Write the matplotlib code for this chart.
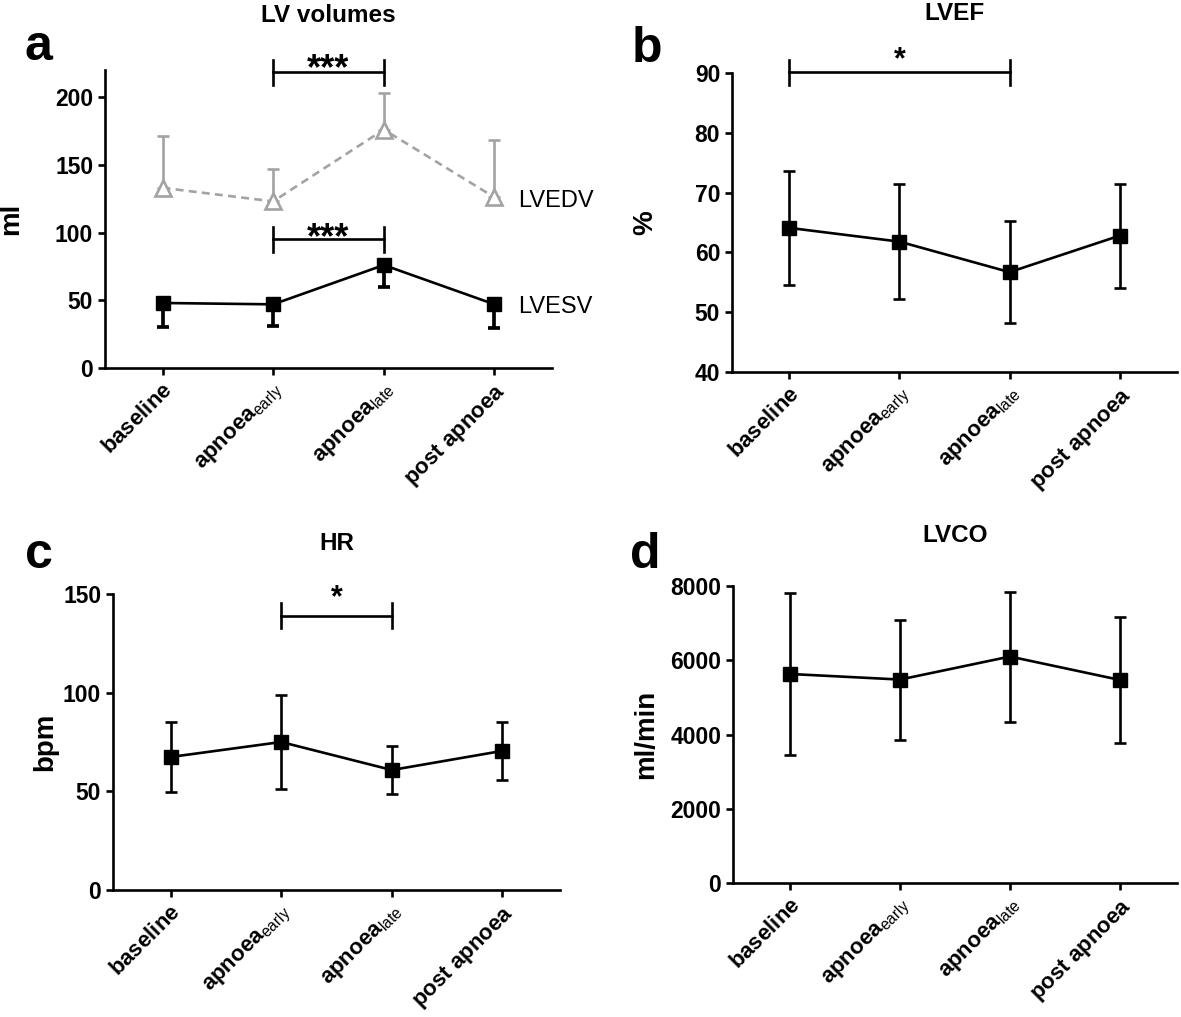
import matplotlib
matplotlib.use("Agg")
import matplotlib.pyplot as plt

plt.rcParams['font.family'] = ['Liberation Sans', 'DejaVu Sans']
plt.rcParams['mathtext.fontset'] = 'custom'
plt.rcParams['mathtext.rm'] = 'Liberation Sans'
plt.rcParams['mathtext.bf'] = 'Liberation Sans:bold'
plt.rcParams['mathtext.it'] = 'Liberation Sans:italic'

# data
phases = [r'$\mathbf{baseline}$', r'$\mathbf{apnoea}_{\mathrm{early}}$',
          r'$\mathbf{apnoea}_{\mathrm{late}}$', r'$\mathbf{post\ apnoea}$']
x = [0, 1, 2, 3]

lvedv = [133, 123, 176, 126]
lvedv_up = [38, 24, 27, 42]
lvesv = [48, 47, 76, 47]
lvesv_down = [18, 16, 16, 17.5]

lvef = [64.1, 61.8, 56.7, 62.8]
lvef_sd = [9.5, 9.6, 8.5, 8.7]

hr = [67.4, 75.0, 60.8, 70.5]
hr_sd = [17.7, 24.0, 12.2, 14.7]

lvco = [5630, 5480, 6100, 5470]
lvco_sd = [2170, 1615, 1750, 1700]

W, H = 1181, 1017
fig = plt.figure(figsize=(W / 100, H / 100), dpi=100)

BLACK = 'black'
GREY = '#a3a3a3'
LW = 1.9


def make_ax(l, r, t, b, ylim, yticks, ylabel, lab_x, title, title_y, letter, letter_xy):
    ax = fig.add_axes([l / W, 1 - b / H, (r - l) / W, (b - t) / H])
    ax.set_xlim(-0.52, 3.52)
    ax.set_ylim(*ylim)
    ax.set_yticks(yticks)
    for s in ['top', 'right']:
        ax.spines[s].set_visible(False)
    for s in ['left', 'bottom']:
        ax.spines[s].set_linewidth(LW)
    ax.tick_params(width=LW, length=5, labelsize=16.5, direction='out')
    for lab in ax.get_yticklabels():
        lab.set_fontweight('bold')
    ax.set_xticks(x)
    ax.set_xticklabels(phases, rotation=45, ha='right', va='top',
                       rotation_mode='anchor', fontsize=16)
    ax.set_ylabel(ylabel, fontsize=20, fontweight='bold')
    ax.yaxis.set_label_coords(lab_x, 0.5)
    fig.text((l + r) / 2 / W, 1 - title_y / H, title, ha='center', va='center',
             fontsize=17.5, fontweight='bold')
    fig.text(letter_xy[0] / W, 1 - letter_xy[1] / H, letter,
             ha='left', va='baseline', fontsize=36, fontweight='bold')
    return ax


def bracket(ax, i, j, level, label, star_off, size):
    y0, y1 = ax.get_ylim()
    h = 0.042 * (y1 - y0)
    ax.plot([i, j], [level, level], color=BLACK, lw=LW, clip_on=False)
    ax.plot([i, i], [level - h, level + h], color=BLACK, lw=LW, clip_on=False)
    ax.plot([j, j], [level - h, level + h], color=BLACK, lw=LW, clip_on=False)
    ax.annotate(label, xy=((i + j) / 2, level), xytext=(0, star_off),
                textcoords='offset pixels', ha='center', va='baseline',
                fontsize=size, fontweight='bold', annotation_clip=False)


# a: LV volumes
ax = make_ax(105, 552, 70, 368, (0, 220), [0, 50, 100, 150, 200], 'ml', -0.18,
             'LV volumes', 15, 'a', (25, 60))
ax.errorbar(x, lvedv, yerr=[[0] * 4, lvedv_up], color=GREY, lw=LW, ls=(0, (3, 2)),
            marker='^', ms=11, mfc='white', mec=GREY, mew=LW,
            ecolor=GREY, elinewidth=LW, capsize=4, capthick=LW, clip_on=False)
ax.errorbar(x, lvesv, yerr=[lvesv_down, [0] * 4], color=BLACK, lw=LW,
            marker='s', ms=9.5, ecolor=BLACK, elinewidth=LW * 1.4, capsize=4,
            capthick=LW * 1.4)
ax.annotate('LVEDV', xy=(3, lvedv[3]), xytext=(24, -4), textcoords='offset pixels',
            ha='left', va='center', fontsize=17, annotation_clip=False)
ax.annotate('LVESV', xy=(3, lvesv[3]), xytext=(24, -3), textcoords='offset pixels',
            ha='left', va='center', fontsize=17, annotation_clip=False)
bracket(ax, 1, 2, 218.5, '***', -7, 26)
bracket(ax, 1, 2, 95, '***', -9, 26)

# b: LVEF
ax = make_ax(732, 1177, 73, 372, (40, 90), [40, 50, 60, 70, 80, 90], '%', -0.166,
             'LVEF', 14, 'b', (632, 62))
ax.errorbar(x, lvef, yerr=lvef_sd, color=BLACK, lw=LW, marker='s', ms=10.5,
            ecolor=BLACK, elinewidth=LW, capsize=4, capthick=LW)
bracket(ax, 0, 2, 90.1, '*', 4, 22)

# c: HR
ax = make_ax(113, 560, 594, 890, (0, 150), [0, 50, 100, 150], 'bpm', -0.123,
             'HR', 544, 'c', (25, 568))
ax.errorbar(x, hr, yerr=hr_sd, color=BLACK, lw=LW, marker='s', ms=10.5,
            ecolor=BLACK, elinewidth=LW, capsize=4, capthick=LW)
bracket(ax, 1, 2, 139, '*', 9, 22)

# d: LVCO
ax = make_ax(733, 1177, 586, 883, (0, 8000), [0, 2000, 4000, 6000, 8000], 'ml/min',
             -0.167, 'LVCO', 535, 'd', (630, 568))
ax.errorbar(x, lvco, yerr=lvco_sd, color=BLACK, lw=LW, marker='s', ms=10.5,
            ecolor=BLACK, elinewidth=LW, capsize=4, capthick=LW)

fig.savefig('out.png', dpi=100)
